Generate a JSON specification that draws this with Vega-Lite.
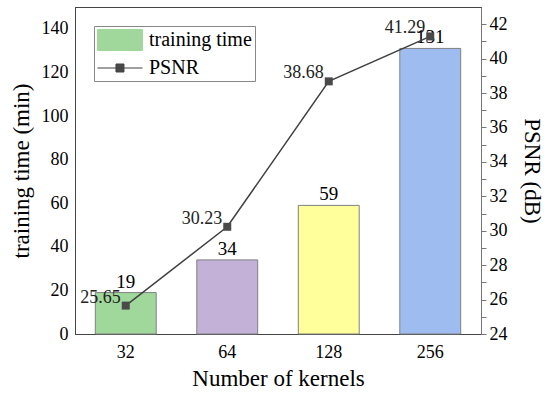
{
  "$schema": "https://vega.github.io/schema/vega-lite/v6.json",
  "description": "Training time and PSNR versus number of kernels",
  "width": 406,
  "height": 327,
  "autosize": "none",
  "padding": {"left": 75, "top": 7, "right": 69, "bottom": 67},
  "config": {
    "font": "Liberation Serif",
    "view": {"stroke": "#444444"},
    "text": {"font": "Liberation Serif"},
    "legend": {"labelFont": "Liberation Serif"},
    "axis": {
      "labelFont": "Liberation Serif",
      "titleFont": "Liberation Serif",
      "labelFontSize": 18,
      "titleFontSize": 23,
      "titleFontWeight": "normal",
      "labelColor": "black",
      "titleColor": "black",
      "domainColor": "#444444",
      "tickColor": "#444444",
      "grid": false
    }
  },
  "data": {
    "values": [
      {"kernels": "32", "time": 19, "psnr": 25.65},
      {"kernels": "64", "time": 34, "psnr": 30.23},
      {"kernels": "128", "time": 59, "psnr": 38.68},
      {"kernels": "256", "time": 131, "psnr": 41.29}
    ]
  },
  "layer": [
    {
      "encoding": {
        "x": {
          "field": "kernels", "type": "ordinal", "sort": null,
          "scale": {"paddingInner": 0.4, "paddingOuter": 0.2},
          "axis": {
            "orient": "bottom", "title": "Number of kernels", "labelAngle": 0,
            "tickSize": 0, "labelPadding": 9, "titlePadding": 6,
            "encode": {"ticks": {"update": {"y2": {"value": -5}}}}
          }
        },
        "y": {
          "field": "time", "type": "quantitative",
          "scale": {"domain": [0, 150], "nice": false},
          "axis": {
            "title": "training time (min)",
            "values": [0, 10, 20, 30, 40, 50, 60, 70, 80, 90, 100, 110, 120, 130, 140],
            "labelExpr": "datum.value % 20 === 0 ? datum.label : ''",
            "tickSize": 0, "labelPadding": 7, "titlePadding": 8,
            "encode": {"ticks": {"update": {"x2": {"signal": "datum.value % 20 === 0 ? 5 : 3"}}}}
          }
        }
      },
      "layer": [
        {
          "mark": {"type": "bar", "stroke": "#808080", "strokeWidth": 1},
          "encoding": {
            "fill": {
              "field": "kernels", "type": "ordinal", "sort": null,
              "scale": {"range": ["#a0d89c", "#c3b1d8", "#ffff9c", "#9ebcf0"]},
              "legend": null
            }
          }
        },
        {
          "mark": {"type": "text", "baseline": "bottom", "dy": -1, "fontSize": 19, "color": "black"},
          "encoding": {"text": {"field": "time", "type": "quantitative"}}
        }
      ]
    },
    {
      "encoding": {
        "x": {
          "field": "kernels", "type": "ordinal", "sort": null,
          "axis": {
            "orient": "top", "title": null, "labels": false, "tickSize": 0,
            "encode": {"ticks": {"update": {"y2": {"value": 5}}}}
          }
        },
        "y": {
          "field": "psnr", "type": "quantitative",
          "scale": {"domain": [24, 43], "nice": false, "zero": false},
          "axis": {
            "orient": "right",
            "title": "PSNR (dB)",
            "values": [24, 25, 26, 27, 28, 29, 30, 31, 32, 33, 34, 35, 36, 37, 38, 39, 40, 41, 42],
            "labelExpr": "datum.value % 2 === 0 ? datum.label : ''",
            "tickSize": 5, "labelPadding": 3, "titlePadding": 12,
            "domainColor": "#777777", "tickColor": "#777777",
            "encode": {"ticks": {"update": {"x2": {"signal": "datum.value % 2 === 0 ? 5 : 3"}}}}
          }
        }
      },
      "layer": [
        {
          "mark": {"type": "line", "strokeWidth": 1.5},
          "encoding": {
            "color": {
              "datum": "PSNR",
              "scale": {"domain": ["training time", "PSNR"], "range": ["#a0d89c", "#404040"]},
              "legend": {
                "title": null,
                "orient": "top-left",
                "offset": 19,
                "padding": 3,
                "rowPadding": 4,
                "strokeColor": "#888888",
                "fillColor": "#ffffff",
                "symbolSize": 441,
                "symbolStrokeWidth": 1,
                "labelFontSize": 20,
                "labelColor": "black",
                "labelOffset": 30,
                "encode": {
                  "symbols": {
                    "update": {
                      "shape": {"signal": "datum.value === 'PSNR' ? 'M-1,0H3.286M0.76,-0.38H1.52V0.38H0.76Z' : 'M-1,-1H3.286V1H-1Z'"},
                      "fill": {"signal": "datum.value === 'PSNR' ? '#4a4a4a' : '#a0d89c'"},
                      "stroke": {"signal": "datum.value === 'PSNR' ? '#404040' : '#888888'"},
                      "opacity": {"value": 1}
                    }
                  }
                }
              }
            }
          }
        },
        {
          "mark": {"type": "point", "shape": "square", "filled": true, "size": 64, "color": "#4a4a4a", "opacity": 1}
        },
        {
          "mark": {"type": "text", "align": "right", "baseline": "alphabetic", "dx": -5, "dy": -3, "fontSize": 18, "color": "#222222"},
          "encoding": {"text": {"field": "psnr", "type": "quantitative", "format": ".2f"}}
        }
      ]
    }
  ],
  "resolve": {"scale": {"y": "independent"}, "axis": {"x": "independent"}}
}
